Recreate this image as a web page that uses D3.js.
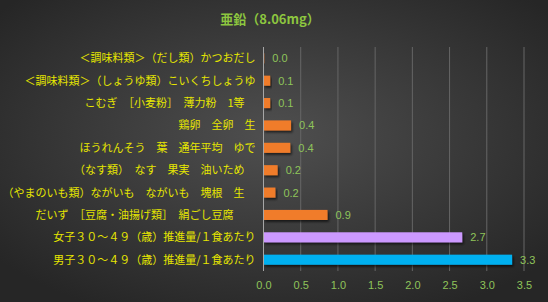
<!DOCTYPE html>
<html lang="ja">
<head>
<meta charset="utf-8">
<title>亜鉛</title>
<script src="https://d3js.org/d3.v7.min.js"></script>
<style>
  html, body { margin: 0; padding: 0; background: #333; }
  svg { display: block; }
</style>
</head>
<body>
<div id="chart"></div>
<script>
// Data
const categories = [
  "＜調味料類＞（だし類）かつおだし",
  "＜調味料類＞（しょうゆ類）こいくちしょうゆ",
  "こむぎ　［小麦粉］　薄力粉　1等　",
  "鶏卵　全卵　生",
  "ほうれんそう　葉　通年平均　ゆで",
  "（なす類）　なす　果実　油いため　",
  "（やまのいも類）ながいも　ながいも　塊根　生　",
  "だいず　［豆腐・油揚げ類］　絹ごし豆腐　　",
  "女子３０～４９（歳）推進量/１食あたり",
  "男子３０～４９（歳）推進量/１食あたり"
];
const values = [0.01, 0.09, 0.09, 0.37, 0.36, 0.19, 0.16, 0.86, 2.67, 3.34];
const barColors = ["#f07c2c", "#f07c2c", "#f07c2c", "#f07c2c", "#f07c2c",
                   "#f07c2c", "#f07c2c", "#f07c2c", "#cc99ff", "#00b0f0"];
const ticks = [0, 0.5, 1, 1.5, 2, 2.5, 3, 3.5];
const title = "亜鉛（8.06mg）";

const width = 548, height = 302;
const margin = { top: 47, right: 24, bottom: 31, left: 263.5 };

const svg = d3.select("#chart").append("svg")
  .attr("width", width)
  .attr("height", height);

const defs = svg.append("defs");
const bg = defs.append("radialGradient")
  .attr("id", "bg")
  .attr("cx", "50%").attr("cy", "45%").attr("r", "65%");
bg.append("stop").attr("offset", "0%").attr("stop-color", "#4f4f4f");
bg.append("stop").attr("offset", "100%").attr("stop-color", "#262626");

const shadow = defs.append("filter")
  .attr("id", "shadow")
  .attr("x", "-10%").attr("y", "-40%").attr("width", "130%").attr("height", "200%");
shadow.append("feDropShadow")
  .attr("dx", 1.5).attr("dy", 2)
  .attr("stdDeviation", 1.2)
  .attr("flood-color", "#000")
  .attr("flood-opacity", 0.6);

svg.append("rect")
  .attr("width", width).attr("height", height)
  .attr("fill", "url(#bg)");

// Scales
const x = d3.scaleLinear()
  .domain([0, 3.5])
  .range([margin.left, width - margin.right]);

const y = d3.scaleBand()
  .domain(categories)
  .range([margin.top, height - margin.bottom])
  .paddingInner(0.55)
  .paddingOuter(0.28);

// Gridlines
svg.append("g")
  .selectAll("line")
  .data(ticks.slice(1))
  .join("line")
  .attr("x1", d => x(d)).attr("x2", d => x(d))
  .attr("y1", margin.top).attr("y2", height - margin.bottom)
  .attr("stroke", "#666")
  .attr("stroke-width", 1);

// Bars
svg.append("g")
  .selectAll("rect")
  .data(values)
  .join("rect")
  .attr("x", x(0))
  .attr("y", (d, i) => y(categories[i]))
  .attr("width", d => x(d) - x(0))
  .attr("height", y.bandwidth())
  .attr("fill", (d, i) => barColors[i])
  .attr("filter", "url(#shadow)");

// Zero axis line
svg.append("line")
  .attr("x1", x(0)).attr("x2", x(0))
  .attr("y1", margin.top).attr("y2", height - margin.bottom)
  .attr("stroke", "#a6a6a6")
  .attr("stroke-width", 1);

// Value labels
svg.append("g")
  .selectAll("text")
  .data(values)
  .join("text")
  .attr("x", d => x(d) + 8)
  .attr("y", (d, i) => y(categories[i]) + y.bandwidth() / 2)
  .attr("dy", "0.36em")
  .attr("font-family", "'Liberation Sans', Arial, sans-serif")
  .attr("font-size", 11)
  .attr("fill", "#8fc45a")
  .text(d => d3.format(".1f")(d));

// Category labels
svg.append("g")
  .selectAll("text")
  .data(categories)
  .join("text")
  .attr("x", x(0) - 8)
  .attr("y", d => y(d) + y.bandwidth() / 2)
  .attr("dy", "0.36em")
  .attr("text-anchor", "end")
  .attr("font-family", "'Noto Sans CJK JP', sans-serif")
  .attr("font-size", 11)
  .attr("fill", "#e6e600")
  .text(d => d);

// X axis tick labels
const xAxis = d3.axisBottom(x)
  .tickValues(ticks)
  .tickSize(0)
  .tickPadding(0)
  .tickFormat(d3.format(".1f"));

const gx = svg.append("g")
  .attr("transform", `translate(0, ${height - margin.bottom + 10})`)
  .call(xAxis);
gx.select(".domain").remove();
gx.selectAll("text")
  .attr("font-family", "'Liberation Sans', Arial, sans-serif")
  .attr("font-size", 11)
  .attr("fill", "#8fc45a");

// Title
svg.append("text")
  .attr("x", 270)
  .attr("y", 24)
  .attr("text-anchor", "middle")
  .attr("font-family", "'Noto Sans CJK JP', sans-serif")
  .attr("font-size", 13)
  .attr("font-weight", "bold")
  .attr("fill", "#8dc63f")
  .text(title);
</script>
</body>
</html>
